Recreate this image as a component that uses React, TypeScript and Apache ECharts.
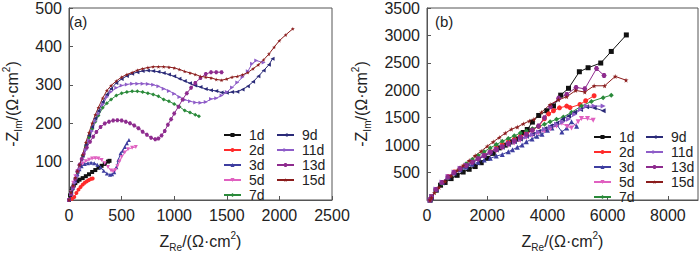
import React, { useEffect, useRef } from "react";
import * as echarts from "echarts";

// ---------- Panel (a) data: [Z_Re, -Z_Im] ----------
const a1d = [[0,0],[10,12],[20,22],[30,30],[45,38],[60,44],[80,49],[100,53],[130,57],[160,62],[190,67],[220,73],[250,78],[280,84],[310,89],[340,94],[370,100],[385,102]];
const a2d = [[0,0],[30,3],[50,8],[70,18],[90,27],[110,34],[130,40],[150,45],[170,49],[190,52],[210,55],[225,56]];
const a3d = [[0,0],[20,15],[40,32],[60,50],[80,68],[100,80],[120,88],[150,94],[180,96],[210,97],[240,96],[270,92],[300,85],[330,76],[360,69],[390,66],[410,67],[430,72],[450,85],[470,105],[490,122],[510,128],[530,138],[550,148],[570,156]];
const a5d = [[0,0],[20,20],[40,45],[60,62],[80,75],[100,85],[130,95],[160,101],[190,105],[220,108],[250,109],[280,108],[310,104],[340,96],[370,86],[400,77],[420,75],[440,78],[460,88],[480,100],[500,112],[530,124],[560,132],[600,136],[635,138]];
const a7d = [[0,0],[20,18],[40,35],[60,55],[80,72],[100,90],[130,115],[160,140],[190,163],[220,185],[250,204],[280,220],[320,240],[360,252],[400,262],[450,272],[500,278],[550,281],[600,283],[650,283],[700,281],[750,278],[800,275],[850,270],[900,262],[950,257],[1000,250],[1050,243],[1100,233],[1150,228],[1200,222],[1235,218]];
const a9d = [[0,0],[20,20],[40,38],[60,57],[80,73],[100,90],[130,115],[160,143],[190,168],[220,190],[250,212],[280,232],[320,255],[360,275],[400,290],[450,305],[500,315],[550,323],[600,329],[650,333],[700,336],[750,337],[800,336],[850,334],[900,331],[950,327],[1000,322],[1050,316],[1100,310],[1150,304],[1200,298],[1250,294],[1300,289],[1350,286],[1400,284],[1450,280],[1500,279],[1550,281],[1600,282],[1650,288],[1700,296],[1750,308],[1800,322],[1850,337],[1900,352],[1935,368]];
const a11d = [[0,0],[20,15],[40,30],[60,45],[80,62],[100,80],[130,105],[160,130],[190,155],[220,180],[250,205],[280,224],[320,248],[360,268],[400,282],[450,292],[500,298],[550,301],[600,303],[650,303],[700,303],[750,302],[800,300],[850,296],[900,290],[950,284],[1000,277],[1050,268],[1100,261],[1150,257],[1200,254],[1250,253],[1300,255],[1350,263],[1400,265],[1450,272],[1500,281],[1550,293],[1600,306],[1650,320],[1700,335],[1740,355],[1780,363],[1850,358]];
const a13d = [[0,0],[20,15],[40,35],[60,55],[80,75],[100,92],[120,107],[140,120],[170,137],[200,152],[230,165],[260,177],[300,190],[340,199],[380,204],[420,207],[460,208],[500,207],[540,204],[580,200],[620,194],[660,187],[700,178],[740,170],[780,162],[820,158],[850,160],[880,168],[910,180],[940,196],[970,210],[1000,225],[1040,243],[1080,262],[1120,278],[1160,292],[1200,305],[1250,318],[1300,328],[1350,333],[1400,333],[1450,333]];
const a15d = [[0,0],[20,20],[40,38],[60,58],[80,75],[100,92],[130,118],[160,150],[190,175],[220,200],[250,222],[280,241],[320,265],[360,285],[400,298],[450,310],[500,320],[550,327],[600,332],[650,338],[700,342],[750,345],[800,347],[850,347],[900,347],[950,346],[1000,344],[1050,340],[1100,335],[1150,331],[1200,327],[1250,322],[1300,320],[1350,318],[1400,314],[1450,312],[1500,315],[1550,320],[1600,322],[1650,326],[1700,332],[1750,342],[1800,352],[1850,365],[1900,380],[1950,398],[2000,415],[2060,430],[2128,446]];

// ---------- Panel (b) data ----------
const b1d = [[100,0],[150,60],[300,180],[450,270],[600,320],[800,390],[1000,450],[1200,510],[1400,560],[1600,610],[1800,680],[2000,760],[2200,850],[2400,950],[2600,1000],[2800,1060],[3000,1114],[3200,1230],[3330,1285],[3500,1420],[3710,1541],[3980,1627],[4200,1712],[4440,1911],[4700,2036],[5060,2338],[5350,2411],[5770,2497],[6120,2708],[6620,3009]];
const b2d = [[100,0],[150,50],[300,190],[500,320],[700,430],[900,510],[1100,580],[1300,640],[1500,700],[1700,760],[1900,820],[2100,880],[2300,950],[2500,1010],[2700,1060],[2900,1110],[3100,1160],[3300,1220],[3500,1280],[3710,1343],[3900,1480],[4040,1570],[4200,1627],[4400,1680],[4640,1712],[4750,1684],[5080,1741],[5270,1809],[5550,1900]];
const b3d = [[100,0],[150,50],[300,190],[500,320],[700,420],[900,490],[1100,550],[1300,600],[1500,650],[1700,690],[1900,730],[2100,760],[2300,800],[2500,831],[2700,880],[2840,916],[3000,960],[3160,1001],[3300,1060],[3490,1114],[3650,1160],[3820,1200],[4000,1270],[4150,1314],[4300,1380],[4480,1240],[4640,1314],[4800,1428],[4970,1343]];
const b5d = [[100,0],[150,55],[300,190],[500,320],[700,420],[900,500],[1100,560],[1300,620],[1500,680],[1700,740],[1900,800],[2100,850],[2300,900],[2500,950],[2700,1000],[2900,1040],[3100,1090],[3300,1140],[3500,1180],[3700,1220],[3900,1260],[4100,1300],[4300,1350],[4480,1399],[4650,1340],[4800,1314],[5020,1428],[5130,1485],[5330,1485],[5520,1456]];
const b7d = [[100,0],[150,45],[300,170],[500,300],[700,410],[900,500],[1100,580],[1300,660],[1500,740],[1700,810],[1900,880],[2100,950],[2300,1010],[2500,1070],[2700,1120],[2900,1170],[3100,1220],[3300,1260],[3500,1300],[3700,1340],[3900,1380],[4090,1428],[4300,1470],[4530,1513],[4800,1600],[5130,1712],[5460,1797],[5850,1866],[6120,1911]];
const b9d = [[100,0],[150,45],[300,180],[500,310],[700,410],[900,490],[1100,560],[1300,620],[1500,680],[1700,740],[1900,800],[2100,860],[2300,910],[2500,960],[2700,1010],[2900,1060],[3100,1110],[3300,1160],[3500,1200],[3700,1250],[3900,1300],[4100,1350],[4300,1400],[4500,1470],[4700,1530],[4900,1600],[5100,1650],[5300,1700],[5550,1680],[5850,1627]];
const b11d = [[100,0],[150,60],[300,200],[500,330],[700,430],[900,510],[1100,580],[1300,640],[1500,700],[1700,760],[1900,820],[2100,870],[2300,920],[2500,970],[2700,1020],[2900,1060],[3100,1110],[3300,1150],[3500,1190],[3700,1240],[3900,1290],[4100,1330],[4300,1380],[4500,1420],[4700,1470],[4900,1560],[5100,1650],[5300,1712],[5550,1712],[5850,1712]];
const b13d = [[100,0],[150,55],[300,190],[500,320],[700,420],[900,500],[1100,570],[1300,630],[1500,690],[1700,750],[1900,810],[2100,870],[2300,920],[2500,970],[2700,1030],[2900,1080],[3100,1140],[3300,1200],[3500,1270],[3700,1350],[3900,1500],[4100,1700],[4370,1855],[4640,1923],[4950,2053],[5240,2026],[5630,2395],[5880,2270]];
const b15d = [[100,0],[150,40],[250,130],[400,230],[600,340],[800,440],[1000,540],[1200,630],[1400,720],[1600,810],[1800,890],[2000,980],[2200,1060],[2400,1140],[2600,1220],[2800,1290],[3000,1330],[3200,1390],[3400,1440],[3550,1470],[3800,1600],[4090,1741],[4370,1826],[4640,1882],[4940,1997],[5240,1968],[5550,2082],[5900,2082],[6250,2253],[6610,2184]];

const names = ["1d", "2d", "3d", "5d", "7d", "9d", "11d", "13d", "15d"];
const colors = ["#111111", "#ff2b2b", "#3e3ea0", "#e060c0", "#2a8a3a", "#2a2a78", "#8e5cc8", "#8e2b8e", "#8b1c1c"];
const panelA = [a1d, a2d, a3d, a5d, a7d, a9d, a11d, a13d, a15d];
const panelB = [b1d, b2d, b3d, b5d, b7d, b9d, b11d, b13d, b15d];
const xTicksA = { min: 0, max: 2500, interval: 500 };
const yTicksA = { min: 0, max: 500, interval: 100 };
const xTicksB = { min: 0, max: 9000, interval: 2000 };
const yTicksB = { min: 0, max: 3500, interval: 500 };

const HEX = "path://M25,0 L75,0 L100,50 L75,100 L25,100 L0,50 Z";
const STAR = "path://M50,0 L61,35 L98,35 L68,57 L79,91 L50,70 L21,91 L32,57 L2,35 L39,35 Z";
const symbols = ["rect", "circle", "triangle", "triangle", "diamond", "triangle", "triangle", HEX, STAR];
const rotations = [0, 0, 0, 180, 0, 90, -90, 0, 0];

const FONT = "Liberation Sans, Arial, sans-serif";
const AX = "#555";

const rich = {
  a: { fontSize: 16, fontFamily: FONT, color: "#222", lineHeight: 22 },
  s: { fontSize: 10, fontFamily: FONT, color: "#222", lineHeight: 22, verticalAlign: "bottom" },
  p: { fontSize: 10, fontFamily: FONT, color: "#222", lineHeight: 22, verticalAlign: "top" },
};

function axisCommon(t: { min: number; max: number; interval: number }, hideZero: boolean) {
  return {
    type: "value",
    min: t.min,
    max: t.max,
    interval: t.interval,
    axisLine: { show: true, lineStyle: { color: AX, width: 1 } },
    axisTick: { show: true, inside: true, length: 4, lineStyle: { color: AX } },
    splitLine: { show: false },
    axisLabel: {
      fontSize: 16,
      fontFamily: FONT,
      color: "#222",
      margin: 7,
      showMaxLabel: true,
      formatter: (v: number) => (hideZero && v === 0 ? "" : String(v)),
    },
  };
}

export default function App() {
  const ref = useRef<HTMLDivElement>(null);
  useEffect(() => {
    if (!ref.current) return;
    const chart = echarts.init(ref.current, null, { renderer: "svg" });
    const series: any[] = [];
    panelA.forEach((d, i) => {
      series.push({
        name: names[i], type: "line", xAxisIndex: 0, yAxisIndex: 0, data: d,
        symbol: symbols[i], symbolRotate: rotations[i], symbolSize: 4,
        lineStyle: { color: colors[i], width: 1 }, itemStyle: { color: colors[i] },
      });
    });
    panelB.forEach((d, i) => {
      series.push({
        name: names[i], type: "line", xAxisIndex: 1, yAxisIndex: 1, data: d,
        symbol: symbols[i], symbolRotate: rotations[i], symbolSize: 5,
        lineStyle: { color: colors[i], width: 1 }, itemStyle: { color: colors[i] },
      });
    });
    const legendBase = {
      orient: "vertical",
      itemWidth: 17,
      itemHeight: 5,
      itemGap: 1,
      padding: 0,
      selectedMode: false,
      lineStyle: { width: 2 },
      textStyle: { fontSize: 14, fontFamily: FONT, color: "#222", lineHeight: 14, padding: [0, 0, 0, 3] },
    };
    const xName = "{a|Z}{s|Re}{a|/(Ω·cm}{p|2}{a|)}";
    const yName = "{a|-Z}{s|Im}{a|/(Ω·cm}{p|2}{a|)}";
    const xA: any = { ...axisCommon(xTicksA, false), gridIndex: 0, name: xName, nameLocation: "middle", nameGap: 30, nameTextStyle: { rich } };
    const yA: any = { ...axisCommon(yTicksA, true), gridIndex: 0, name: yName, nameLocation: "middle", nameRotate: 90, nameGap: 46, nameTextStyle: { rich } };
    const xB: any = { ...axisCommon(xTicksB, false), gridIndex: 1, name: xName, nameLocation: "middle", nameGap: 30, nameTextStyle: { rich } };
    xB.axisLabel = { ...xB.axisLabel, showMaxLabel: false };
    const yB: any = { ...axisCommon(yTicksB, true), gridIndex: 1, name: yName, nameLocation: "middle", nameRotate: 90, nameGap: 55, nameTextStyle: { rich } };
    chart.setOption({
      animation: false,
      grid: [
        { left: 61, top: 7, width: 271, height: 204, show: true, borderColor: AX, borderWidth: 1, backgroundColor: "#fff" },
        { left: 427, top: 7, width: 271, height: 204, show: true, borderColor: AX, borderWidth: 1, backgroundColor: "#fff" },
      ],
      xAxis: [xA, xB],
      yAxis: [yA, yB],
      legend: [
        { ...legendBase, left: 223, top: 128, data: names.slice(0, 5) },
        { ...legendBase, left: 276, top: 128, data: names.slice(5) },
        { ...legendBase, left: 593, top: 130, data: names.slice(0, 5) },
        { ...legendBase, left: 645, top: 130, data: names.slice(5) },
      ],
      graphic: [
        { type: "text", left: 69, top: 14, style: { text: "(a)", fontSize: 15, fontFamily: FONT, fill: "#222" } },
        { type: "text", left: 435, top: 14, style: { text: "(b)", fontSize: 15, fontFamily: FONT, fill: "#222" } },
      ],
      series,
    });
    return () => chart.dispose();
  }, []);
  return <div ref={ref} style={{ position: "fixed", left: 0, top: 0, width: 700, height: 257, background: "#fff" }} />;
}
